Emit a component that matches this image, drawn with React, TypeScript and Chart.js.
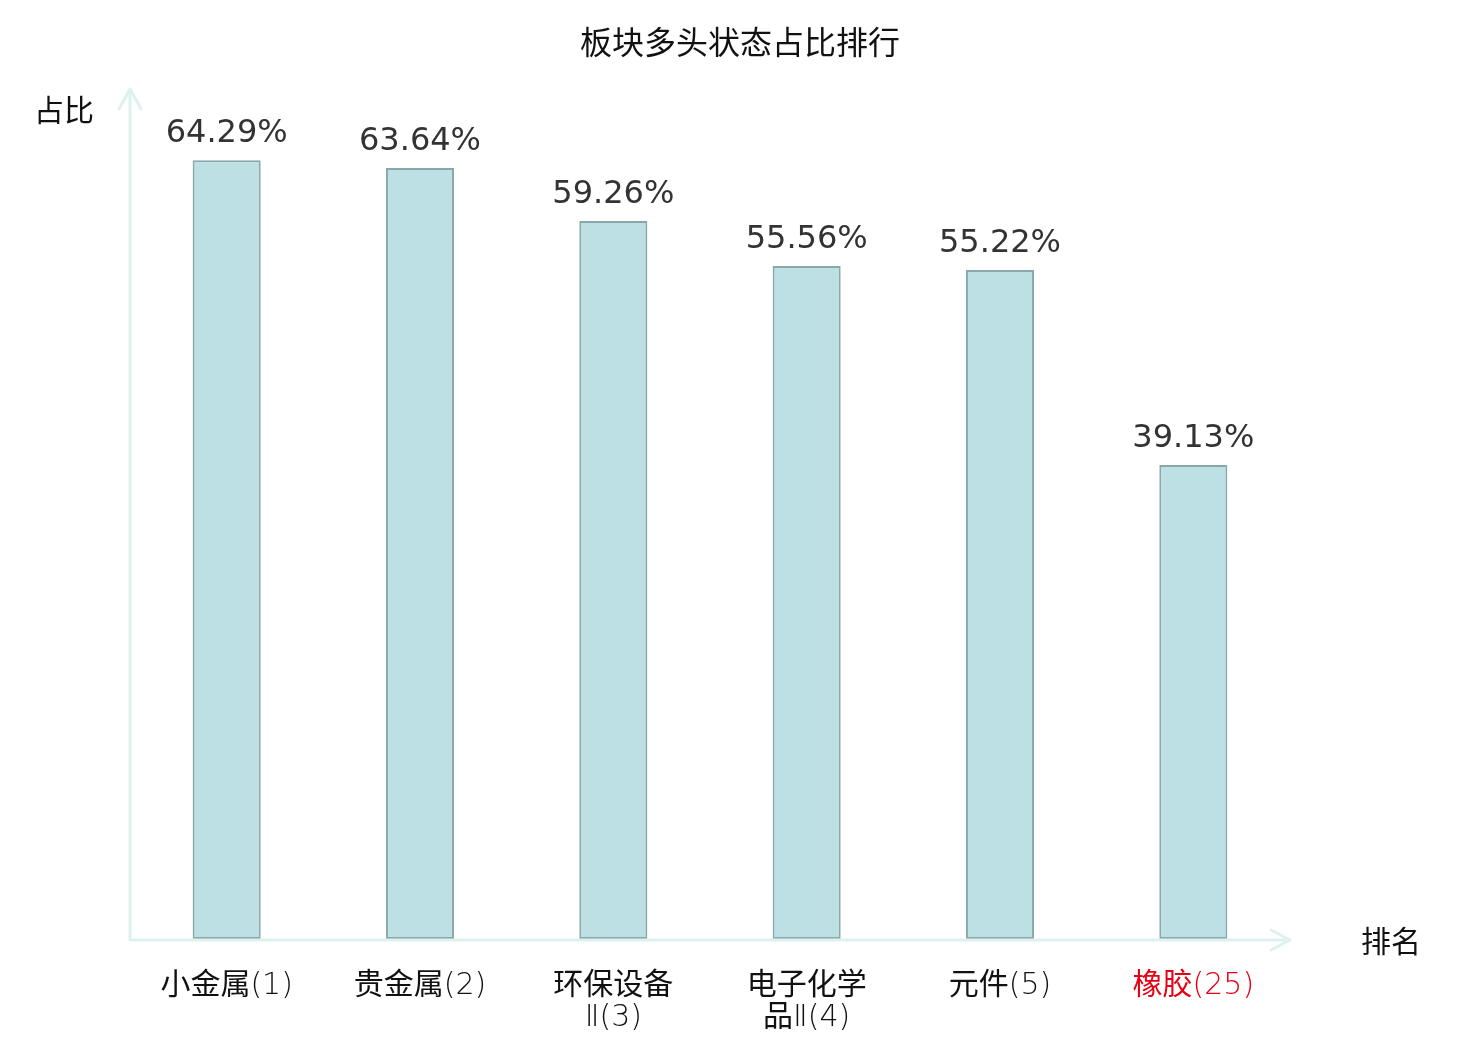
import { useEffect, useRef } from "react"
import { Chart, registerables, type ChartConfiguration, type Plugin } from "chart.js"

Chart.register(...registerables)

const categories: (string | string[])[] = [
  "小金属(1)",
  "贵金属(2)",
  ["环保设备", "Ⅱ(3)"],
  ["电子化学", "品Ⅱ(4)"],
  "元件(5)",
  "橡胶(25)",
]
const shares = [64.29, 63.64, 59.26, 55.56, 55.22, 39.13]
const labelColors = ["#111", "#111", "#111", "#111", "#111", "#e60012"]

const TITLE = "板块多头状态占比排行"
const Y_NAME = "占比"
const X_NAME = "排名"

const NUM_FONT = '"DejaVu Sans", "Noto Sans CJK SC", sans-serif'
const CJK_FONT = '"Noto Sans CJK SC", "DejaVu Sans", sans-serif'
const TICK_FONT = '"DejaVu Sans Light", "Noto Sans CJK SC", sans-serif'
const AXIS_COLOR = "#ddf1ef"

const decor: Plugin<"bar"> = {
  id: "decor",
  afterDatasetsDraw(chart) {
    const { ctx, chartArea } = chart
    const { left, right, top, bottom } = chartArea
    ctx.save()

    // axes with arrows
    ctx.strokeStyle = AXIS_COLOR
    ctx.lineWidth = 3
    ctx.lineCap = "round"
    ctx.lineJoin = "round"
    ctx.beginPath()
    ctx.moveTo(left, bottom + 1)
    ctx.lineTo(left, top - 2)
    ctx.moveTo(left, bottom + 1)
    ctx.lineTo(right, bottom + 1)
    ctx.stroke()
    ctx.beginPath()
    ctx.moveTo(left - 11, top + 18)
    ctx.lineTo(left, top - 2)
    ctx.lineTo(left + 11, top + 18)
    ctx.moveTo(right - 19, bottom - 9)
    ctx.lineTo(right, bottom + 1)
    ctx.lineTo(right - 19, bottom + 11)
    ctx.stroke()

    // value labels
    const meta = chart.getDatasetMeta(0)
    ctx.fillStyle = "#333"
    ctx.font = `32px ${NUM_FONT}`
    ctx.textAlign = "center"
    ctx.textBaseline = "alphabetic"
    meta.data.forEach((bar, i) => {
      ctx.fillText(`${shares[i].toFixed(2)}%`, bar.x, bar.y - 18)
    })

    // title and axis names
    ctx.fillStyle = "#111"
    ctx.textBaseline = "middle"
    ctx.font = `32px ${CJK_FONT}`
    ctx.fillText(TITLE, 740, 42)
    ctx.font = `30px ${CJK_FONT}`
    ctx.textAlign = "left"
    ctx.fillText(Y_NAME, 34, 110)
    ctx.fillText(X_NAME, 1361, 941)
    ctx.restore()
  },
}

export default function App() {
  const canvasRef = useRef<HTMLCanvasElement>(null)
  const chartRef = useRef<Chart<"bar"> | null>(null)

  useEffect(() => {
    document.body.style.margin = "0"
    if (!canvasRef.current) return
    chartRef.current?.destroy()

    const cfg: ChartConfiguration<"bar"> = {
      type: "bar",
      data: {
        labels: categories,
        datasets: [
          {
            data: shares,
            backgroundColor: "#bce0e3",
            borderColor: "#8aa8a9",
            borderWidth: 2,
            borderSkipped: false,
            barPercentage: 0.352,
            categoryPercentage: 1,
          },
        ],
      },
      options: {
        responsive: true,
        maintainAspectRatio: false,
        animation: false,
        layout: { padding: { left: 130, right: 190, top: 91, bottom: 0 } },
        plugins: {
          legend: { display: false },
          title: { display: false },
          tooltip: { enabled: false },
        },
        scales: {
          x: {
            grid: { display: false, drawTicks: false },
            border: { display: false },
            ticks: {
              padding: 31,
              maxRotation: 0,
              autoSkip: false,
              font: { family: TICK_FONT, size: 30, lineHeight: 1.07 },
              color: labelColors,
            },
            afterFit: (scale) => {
              scale.height = 101
            },
          },
          y: {
            display: false,
            min: 0,
            max: 70,
          },
        },
      },
      plugins: [decor],
    }
    chartRef.current = new Chart(canvasRef.current, cfg)
    return () => {
      chartRef.current?.destroy()
    }
  }, [])

  return (
    <div style={{ width: 1480, height: 1040, position: "relative", background: "#fff" }}>
      <canvas ref={canvasRef} />
    </div>
  )
}
